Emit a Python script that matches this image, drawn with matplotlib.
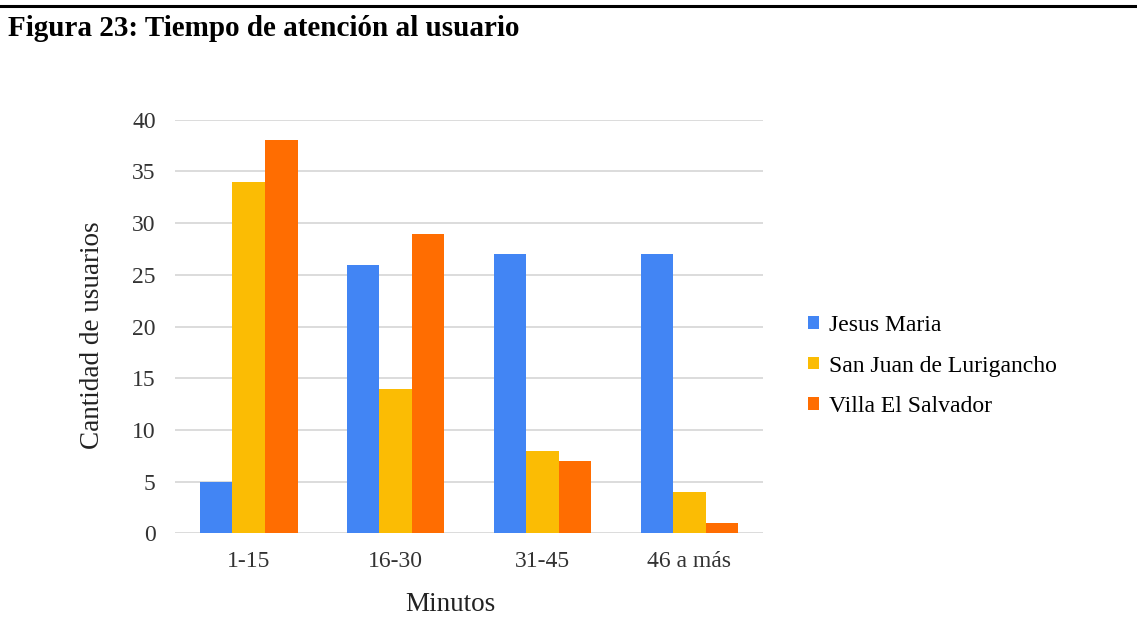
import matplotlib
matplotlib.use('Agg')
import matplotlib.pyplot as plt
import numpy as np

categorias = ['1-15', '16-30', '31-45', '46 a más']
jesus_maria = [5, 26, 27, 27]
san_juan = [34, 14, 8, 4]
villa_salvador = [38, 29, 7, 1]
series = ['Jesus Maria', 'San Juan de Lurigancho', 'Villa El Salvador']
colores = ['#4285F4', '#FBBC04', '#FF6D01']

plt.rcParams['font.family'] = ['Liberation Serif', 'DejaVu Serif']

fig = plt.figure(figsize=(11.37, 6.34), dpi=100)
ax = fig.add_axes([0.154, 0.159, 0.517, 0.652])

x = np.arange(len(categorias))
w = 0.222
for i, (vals, nombre, col) in enumerate(zip([jesus_maria, san_juan, villa_salvador], series, colores)):
    ax.bar(x + (i - 1) * w, vals, w, color=col, label=nombre, zorder=3)

ax.set_xlim(-0.5, 3.5)
ax.set_ylim(0, 40)
ax.set_yticks(range(0, 41, 5))
ax.set_xticks(x)
ax.set_xticklabels(categorias)
ax.grid(axis='y', color='#d9d9d9', linewidth=1.3, zorder=0)
for s in ax.spines.values():
    s.set_visible(False)
ax.tick_params(axis='both', length=0, labelsize=17, colors='#333333')
ax.tick_params(axis='y', pad=14)
ax.tick_params(axis='x', pad=13)

ax.set_ylabel('Cantidad de usuarios', fontsize=19.5, color='#222222')
ax.yaxis.set_label_coords(-0.12, 0.48)
ax.set_xlabel('Minutos', fontsize=19.5, color='#222222')
ax.xaxis.set_label_coords(0.468, -0.142)

leg = fig.legend(loc='center left', bbox_to_anchor=(0.7107, 0.4227), frameon=False,
                 fontsize=17, handlelength=0.45, handleheight=0.45,
                 handletextpad=0.45, labelspacing=0.82, borderpad=0, borderaxespad=0)

fig.text(0.007, 0.955, 'Figura 23: Tiempo de atención al usuario',
         fontsize=21, fontweight='bold', va='center', ha='left')
fig.add_artist(plt.Line2D([0, 1], [0.991, 0.991], color='black', linewidth=2.2,
                          transform=fig.transFigure))

fig.savefig('out.png', dpi=100)
